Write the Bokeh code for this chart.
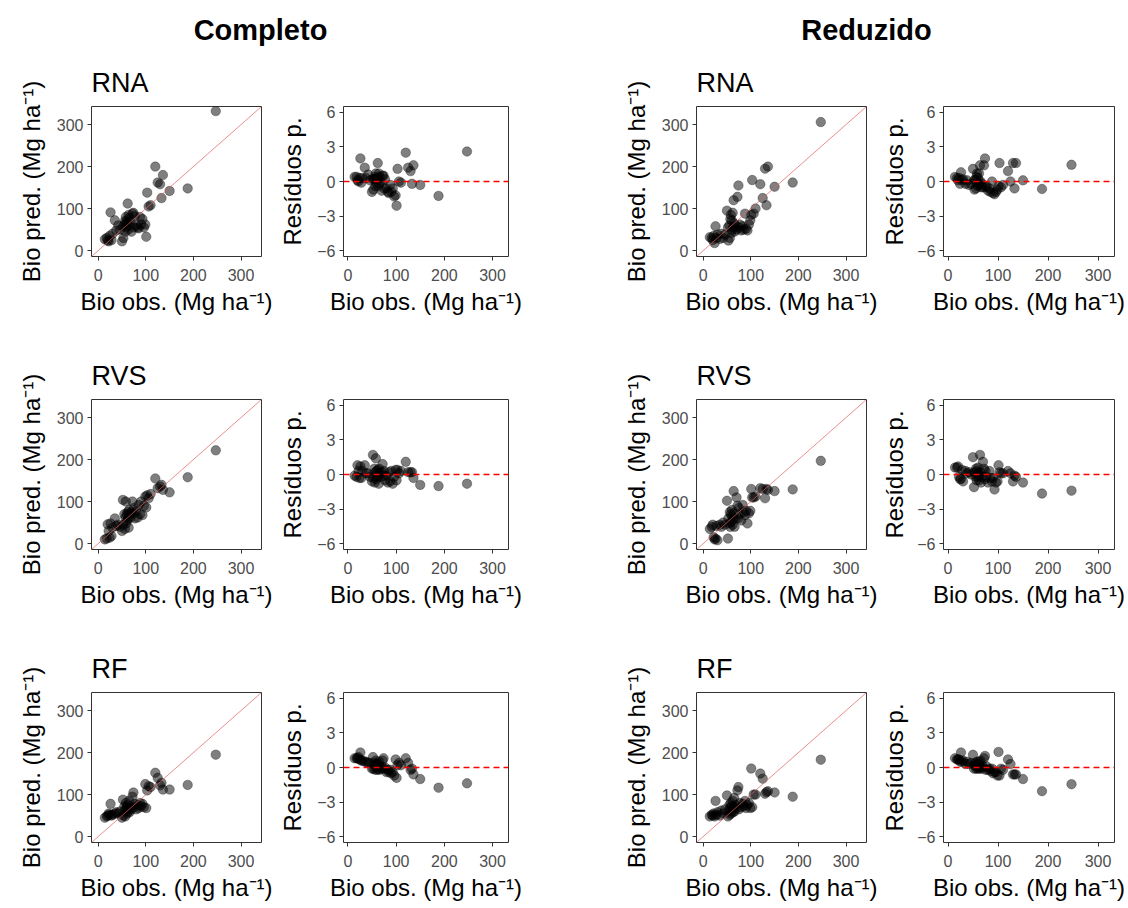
from bokeh.plotting import figure
from bokeh.layouts import column, row
from bokeh.models import Range1d, FixedTicker, Slope, Span, Title, ColumnDataSource
from bokeh.embed import file_html
from bokeh.resources import INLINE
from bokeh.core.properties import value

# ---------------- data ----------------
obs = [14, 18, 20, 22, 24, 26, 28, 30, 35, 38, 42, 46,
       50, 52, 53, 55, 56, 57, 58, 59, 60, 61, 62, 63, 64, 65, 66, 68, 70, 72,
       74, 75, 77, 80, 83, 85, 88, 90, 93, 96, 99,
       101, 103, 106, 110, 120, 125, 130, 133, 136, 150, 188, 247]

pred_completo_rna = [27, 30, 24, 22, 35, 91, 25, 40, 72, 48, 60, 50,
                     22, 58, 30, 62, 70, 45, 80, 55, 65, 72, 112, 50, 85, 60, 78, 68, 45, 88,
                     90, 55, 82, 60, 55, 53, 80, 62, 75, 55, 62,
                     33, 138, 105, 108, 200, 162, 158, 125, 180, 142, 148, 332]
res_completo_rna = [0.4, 0.4, 0.1, 0.0, 0.3, 2.0, -0.1, 0.3, 1.2, 0.3, 0.6, 0.1,
                    -0.9, 0.2, -0.7, 0.2, 0.4, -0.4, 0.7, -0.1, 0.2, 0.3, 1.6, -0.4, 0.7, -0.2, 0.4, 0.0, -0.8, 0.5,
                    0.5, -0.6, 0.2, -0.6, -0.9, -1.0, -0.3, -0.9, -0.6, -1.3, -1.2,
                    -2.1, 1.1, 0.0, -0.1, 2.5, 1.2, 0.9, -0.2, 1.4, -0.3, -1.25, 2.6]

pred_completo_rvs = [10, 12, 46, 30, 14, 48, 18, 38, 60, 42, 45, 40,
                     30, 104, 45, 70, 35, 62, 100, 48, 70, 55, 75, 60, 38, 80, 70, 62, 75, 100,
                     72, 85, 60, 78, 62, 92, 70, 100, 68, 90, 112,
                     86, 115, 108, 118, 155, 132, 136, 140, 128, 122, 158, 222]
res_completo_rvs = [-0.1, -0.2, 0.8, 0.3, -0.3, 0.7, -0.3, 0.3, 0.8, 0.1, 0.1, -0.2,
                    -0.6, 1.7, -0.3, 0.5, -0.7, 0.2, 1.4, -0.4, 0.3, -0.2, 0.4, -0.1, -0.8, 0.5, 0.1, -0.2, 0.2, 0.9,
                    -0.1, 0.3, -0.5, -0.1, -0.7, 0.2, -0.6, 0.3, -0.8, -0.2, 0.4,
                    -0.5, 0.4, 0.1, 0.3, 1.1, 0.2, 0.2, 0.2, -0.3, -0.9, -1.0, -0.8]

pred_completo_rf = [45, 48, 50, 55, 52, 78, 50, 52, 55, 58, 55, 60,
                    45, 88, 50, 72, 62, 48, 80, 65, 70, 55, 75, 60, 68, 85, 58, 72, 65, 95,
                    105, 70, 78, 65, 75, 68, 80, 72, 78, 70, 125,
                    68, 110, 120, 118, 152, 140, 122, 128, 112, 112, 123, 195]
res_completo_rf = [0.8, 0.8, 0.8, 0.9, 0.7, 1.3, 0.6, 0.6, 0.5, 0.5, 0.4, 0.4,
                   -0.1, 0.9, -0.1, 0.4, 0.2, -0.2, 0.6, 0.2, 0.3, -0.2, 0.3, -0.1, 0.1, 0.5, -0.2, 0.1, -0.1, 0.6,
                   0.8, -0.1, 0.0, -0.4, -0.2, -0.4, -0.2, -0.5, -0.4, -0.7, 0.7,
                   -0.9, 0.2, 0.4, 0.2, 0.8, 0.4, -0.2, -0.1, -0.6, -1.0, -1.75, -1.37]

pred_reduzido_rna = [32, 30, 25, 35, 18, 58, 30, 38, 28, 40, 30, 38,
                     95, 55, 24, 60, 30, 75, 85, 42, 72, 50, 90, 55, 120, 65, 45, 60, 50, 128,
                     155, 55, 62, 48, 58, 50, 88, 52, 48, 62, 72,
                     85, 168, 88, 100, 158, 125, 195, 108, 200, 152, 162, 306]
res_reduzido_rna = [0.4, 0.3, 0.1, 0.3, -0.2, 0.8, 0.1, 0.2, -0.2, 0.1, -0.3, -0.2,
                    1.1, 0.1, -0.7, 0.1, -0.6, 0.4, 0.7, -0.4, 0.3, -0.3, 0.7, -0.2, 1.4, 0.0, -0.5, -0.2, -0.5, 1.4,
                    2.0, -0.5, -0.4, -0.8, -0.6, -0.9, 0.0, -1.0, -1.1, -0.9, -0.7,
                    -0.4, 1.6, -0.5, -0.3, 0.9, 0.0, 1.6, -0.6, 1.6, 0.1, -0.65, 1.45]

pred_reduzido_rvs = [35, 40, 45, 15, 10, 12, 42, 8, 45, 40, 50, 45,
                     102, 12, 60, 48, 75, 40, 70, 52, 80, 65, 45, 58, 125, 72, 40, 60, 110, 90,
                     60, 85, 70, 55, 92, 75, 68, 78, 48, 72, 78,
                     130, 110, 110, 112, 132, 130, 108, 130, 128, 125, 129, 197]
res_reduzido_rvs = [0.6, 0.6, 0.7, -0.2, -0.4, -0.4, 0.4, -0.6, 0.3, 0.1, 0.2, 0.0,
                    1.5, -1.1, 0.2, -0.2, 0.5, -0.5, 0.3, -0.2, 0.6, 0.1, -0.5, -0.1, 1.7, 0.2, -0.7, -0.2, 1.1, 0.5,
                    -0.4, 0.3, -0.2, -0.7, 0.3, -0.3, -0.6, -0.3, -1.3, -0.7, -0.6,
                    0.8, 0.2, 0.1, 0.1, 0.3, 0.1, -0.6, -0.1, -0.2, -0.7, -1.65, -1.4]

pred_reduzido_rf = [48, 52, 50, 55, 48, 85, 52, 58, 50, 62, 55, 65,
                    98, 48, 60, 75, 52, 68, 80, 55, 72, 62, 85, 58, 70, 92, 60, 75, 68, 110,
                    118, 65, 80, 70, 78, 72, 85, 68, 75, 80, 68,
                    162, 70, 100, 100, 150, 138, 102, 106, 108, 105, 95, 183]
res_reduzido_rf = [0.8, 0.7, 0.7, 0.7, 0.5, 1.3, 0.5, 0.6, 0.3, 0.5, 0.3, 0.4,
                   1.1, -0.1, 0.2, 0.4, -0.1, 0.2, 0.5, -0.1, 0.3, 0.0, 0.5, -0.1, 0.1, 0.6, -0.1, 0.2, 0.0, 0.8,
                   1.0, -0.2, 0.1, -0.2, -0.1, -0.3, -0.1, -0.5, -0.4, -0.4, -0.7,
                   1.35, -0.7, -0.1, -0.2, 0.7, 0.3, -0.6, -0.6, -0.6, -1.0, -2.05, -1.45]

group_titles = ["Completo", "Reduzido"]
model_titles = ["RNA", "RVS", "RF"]
bio_ticks = [0, 100, 200, 300]
res_ticks = [-6, -3, 0, 3, 6]
xlab = "Bio obs. (Mg ha\u207b\u00b9)"
ylab_pred = "Bio pred. (Mg ha\u207b\u00b9)"
ylab_res = "Res\u00edduos p."

FONT = "Liberation Sans"
TICK_SIZE = "16px"
LAB_SIZE = "24px"


def style_axes(p, xticks, yticks, y_standoff):
    p.xaxis.ticker = FixedTicker(ticks=xticks)
    p.yaxis.ticker = FixedTicker(ticks=yticks)
    for ax in (p.xaxis[0], p.yaxis[0]):
        ax.axis_line_color = None
        ax.major_tick_line_color = "#333333"
        ax.major_tick_in = 0
        ax.major_tick_out = 4
        ax.minor_tick_line_color = None
        ax.major_label_text_font = FONT
        ax.major_label_text_font_size = TICK_SIZE
        ax.major_label_text_color = "#4d4d4d"
        ax.axis_label_text_font = FONT
        ax.axis_label_text_font_size = LAB_SIZE
        ax.axis_label_text_font_style = "normal"
        ax.axis_label_text_color = "black"
    p.xaxis.major_label_standoff = 8
    p.yaxis.major_label_standoff = 4
    p.xaxis.axis_label_standoff = 4
    p.yaxis.axis_label_standoff = y_standoff
    p.xgrid.visible = False
    p.ygrid.visible = False
    p.outline_line_color = "#333333"
    p.outline_line_width = 1
    p.background_fill_color = "white"


def make_scatter(title, pred, mb_left, mb_bottom):
    p = figure(frame_width=170, frame_height=150, min_border_left=mb_left,
               min_border_right=12, min_border_top=55, min_border_bottom=mb_bottom,
               x_range=Range1d(-14, 343), y_range=Range1d(-14, 343),
               output_backend="svg", toolbar_location=None)
    t = Title(text=title, text_font=FONT, text_font_size="27px", text_color="black",
              text_font_style="normal", align="left", standoff=18)
    p.title = t
    style_axes(p, bio_ticks, bio_ticks, 9)
    p.xaxis.axis_label = xlab
    p.yaxis.axis_label = ylab_pred
    p.add_layout(Slope(gradient=1, y_intercept=0, line_color="#e06060",
                       line_alpha=0.7, line_width=1))
    src = ColumnDataSource(dict(x=obs, y=pred))
    p.scatter("x", "y", source=src, size=9.5, fill_color="black",
              fill_alpha=0.5, line_color="black", line_alpha=0.3)
    return p


def make_resid(res, mb_left, frame_w, mb_right, mb_bottom, y_standoff):
    p = figure(frame_width=frame_w, frame_height=150, min_border_left=mb_left,
               min_border_right=mb_right, min_border_top=55, min_border_bottom=mb_bottom,
               x_range=Range1d(-9, 333), y_range=Range1d(-6.5, 6.5),
               output_backend="svg", toolbar_location=None)
    style_axes(p, bio_ticks, res_ticks, y_standoff)
    p.xaxis.axis_label = xlab
    p.yaxis.axis_label = ylab_res
    p.add_layout(Span(location=0, dimension="width", line_color="red",
                      line_dash="6 4", line_width=1.5))
    src = ColumnDataSource(dict(x=obs, y=res))
    p.scatter("x", "y", source=src, size=9.5, fill_color="black",
              fill_alpha=0.5, line_color="black", line_alpha=0.3)
    return p


# header
header = figure(frame_width=1128, frame_height=51, min_border=0,
                x_range=Range1d(0, 1128), y_range=Range1d(51, 0),
                x_axis_type=None, y_axis_type=None,
                output_backend="svg", toolbar_location=None)
header.outline_line_color = None
header.xgrid.visible = False
header.ygrid.visible = False
header.text(x=[260, 866], y=[29, 29], text=group_titles,
            text_font=value(FONT), text_font_size="29px", text_font_style="bold",
            text_align="center", text_baseline="middle", text_color="black")

preds = {
    "Completo": [pred_completo_rna, pred_completo_rvs, pred_completo_rf],
    "Reduzido": [pred_reduzido_rna, pred_reduzido_rvs, pred_reduzido_rf],
}
resids = {
    "Completo": [res_completo_rna, res_completo_rvs, res_completo_rf],
    "Reduzido": [res_reduzido_rna, res_reduzido_rvs, res_reduzido_rf],
}

rows = []
for i, m in enumerate(model_titles):
    mb_bottom = 88 if i < 2 else 60
    a = make_scatter(m, preds["Completo"][i], 91, mb_bottom)
    b = make_resid(resids["Completo"][i], 70, 165, 97, mb_bottom, 8)
    c = make_scatter(m, preds["Reduzido"][i], 91, mb_bottom)
    d = make_resid(resids["Reduzido"][i], 65, 171, 12, mb_bottom, 6)
    rows.append(row(a, b, c, d, spacing=0))

layout = column(header, *rows, spacing=0)

html = file_html(layout, INLINE, title="Bio")
html = html.replace("<head>", "<head><style>html,body{margin:0;padding:0;background:white;}</style>", 1)
open("out.html", "w").write(html)
